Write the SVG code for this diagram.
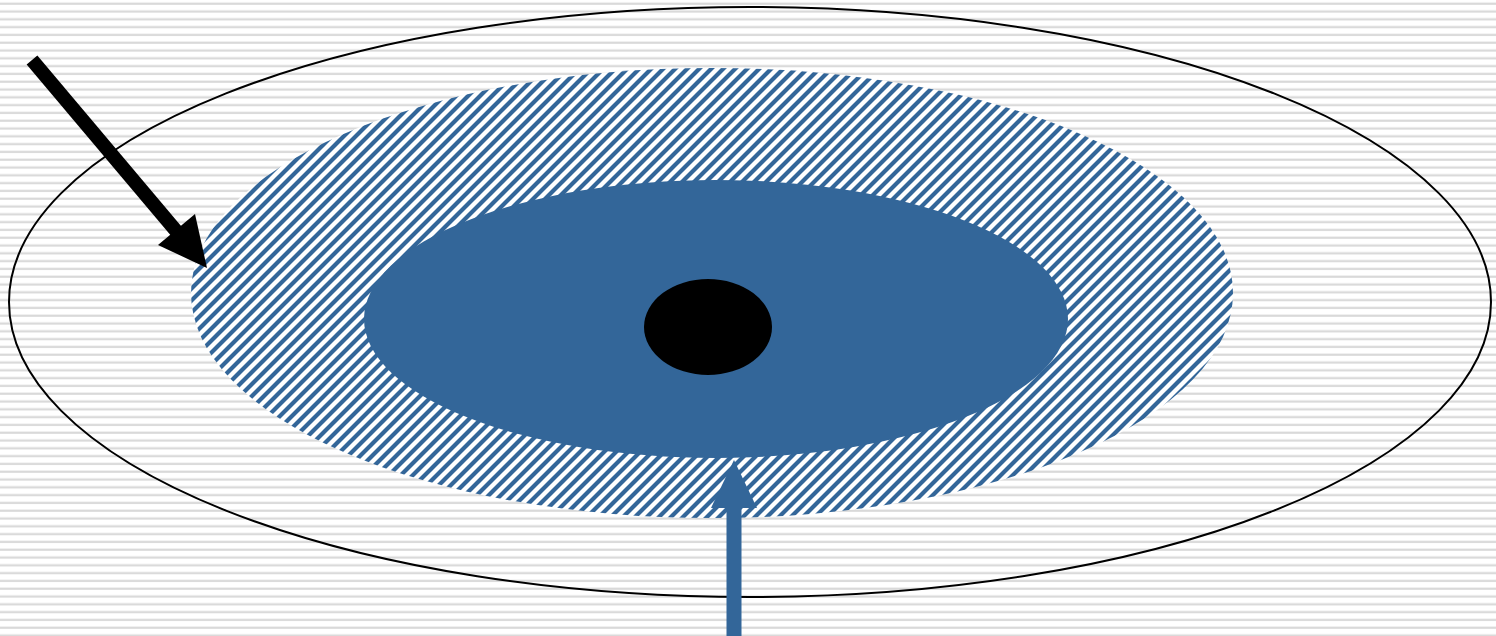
<svg xmlns="http://www.w3.org/2000/svg" width="1496" height="636" viewBox="0 0 1496 636">
<defs>
<pattern id="bg" patternUnits="userSpaceOnUse" width="20" height="7.8">
<rect width="20" height="7.8" fill="#ffffff"/>
<rect y="2.6" width="20" height="2.2" fill="#d9d9d9"/>
</pattern>
<pattern id="hatch" patternUnits="userSpaceOnUse" width="12" height="12">
<rect width="12" height="12" fill="#ffffff"/>
<path d="M-2,14 L14,-2 M-3,3 L3,-3 M9,15 L15,9" stroke="#336699" stroke-width="4.2"/>
</pattern>
</defs>
<style>
.conn{fill:none}
</style>
<rect width="1496" height="636" fill="url(#bg)"/>
<g id="outer">
<ellipse cx="750" cy="302" rx="741" ry="295" fill="none" stroke="#000" stroke-width="2"/>
</g>
<g id="hatched">
<ellipse cx="712" cy="293" rx="521" ry="225" fill="url(#hatch)"/>
</g>
<g id="inner">
<ellipse cx="716" cy="319" rx="352" ry="139" fill="#336699"/>
</g>
<g id="core">
<ellipse cx="708" cy="327" rx="64" ry="48" fill="#000"/>
</g>
<g id="connectors">
<path class="conn" d="M32,60 L177,232" stroke="#000" stroke-width="14"/>
<path d="M207,268 L158,245 L195,214 Z" fill="#000"/>
<path class="conn" d="M734,636 L734,505" stroke="#336699" stroke-width="15"/>
<path d="M734,460 L757,508 L711,508 Z" fill="#336699"/>
</g>
</svg>
